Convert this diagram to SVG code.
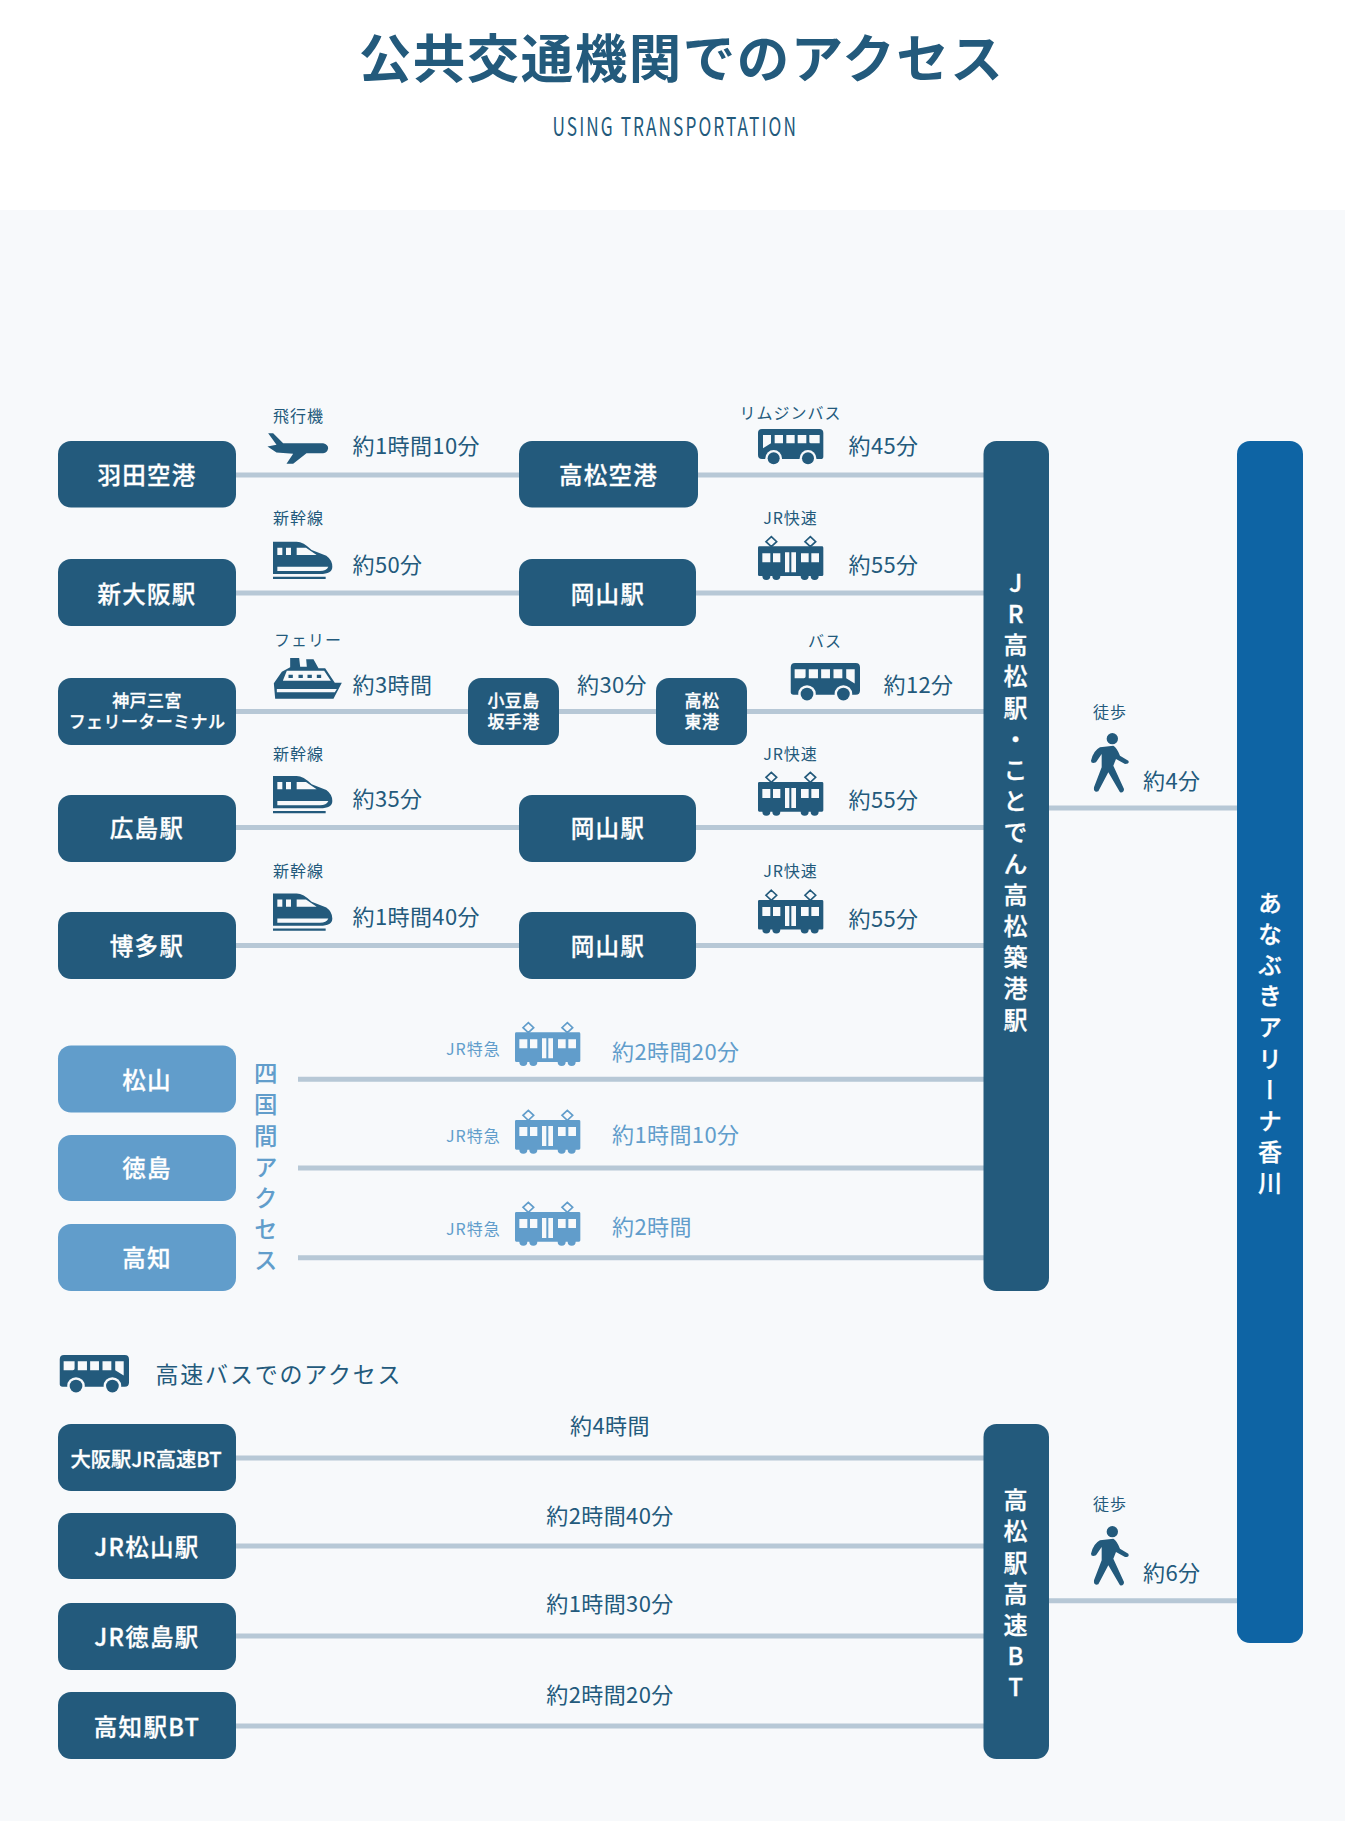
<svg xmlns="http://www.w3.org/2000/svg" width="1345" height="1821" viewBox="0 0 1345 1821">
<style>
text{font-family:"Noto Sans CJK JP","Noto Sans",sans-serif;fill:#235a7c}
.n{fill:#235a7c}.l{fill:#619dcb}.a{fill:#0e64a4}
.t,.m,.v{font-weight:500;fill:#fff;stroke:#fff;stroke-width:.3px}
.t{font-size:23.5px;text-anchor:middle;letter-spacing:1.3px}
.m{font-size:17px;text-anchor:middle;letter-spacing:.4px}
.v{font-size:24px;writing-mode:vertical-rl;text-orientation:upright;letter-spacing:7.2px}
.d{font-size:22px;letter-spacing:.4px}
.s{font-size:16px;letter-spacing:1px}
.c{text-anchor:middle}
.lt{fill:#619dcb}
.ln{stroke:#b7c8d6;stroke-width:5;fill:none}
</style>
<defs>
<path id="plane" transform="scale(.3333)" d="M2,2 H17 L47,32 H167 Q182,36 182,47 Q180,60 167,62 H117 L77,94 H57 L77,64 L27,60 L0,42 L27,37 Z"/>
<path id="shink" fill-rule="evenodd" transform="scale(.3333)" d="M0,0 H71 Q91,0 116,25 L160,42 Q178,55 178,75 Q178,97 141,97 H0 Z M13,18 V40 H28 V18 Z M39,18 V40 H54 V18 Z M71,18 V40 H131 L99,18 Z M13,75 V88 H141 Q160,88 166,75 Z M0,105 H158 V112 H0 Z"/>
<path id="ferry" fill-rule="evenodd" transform="scale(.3333)" d="M1,76 L25,41 L50,28 V0 H77 L80,26 H100 L98,4 H120 L135,31 H155 L184,74 L205,74 L180,122 H5 Z M28,68 H172 L152,38 L132,38 H40 Z M45,50 H58 V60 H45 Z M75,50 H88 V60 H75 Z M102,50 H115 V60 H102 Z M130,50 H143 V60 H130 Z M10,93 V103 H184 L190,93 Z"/>
<g id="bus" transform="scale(.3333)"><path fill-rule="evenodd" d="M12,0 H184 Q196,0 196,12 V83 Q196,90 188,90 H12 Q0,90 0,78 V12 Q0,0 12,0 Z M15,18 V58 L39,43 V18 Z M50,18 V43 H75 V18 Z M85,18 V43 H110 V18 Z M119,18 V43 H145 V18 Z M154,18 V38 Q154,43 159,43 H185 V18 Z"/><circle cx="47" cy="88" r="25" fill="#f7f9fb"/><circle cx="150" cy="88" r="25" fill="#f7f9fb"/><circle cx="47" cy="88" r="18"/><circle cx="150" cy="88" r="18"/></g>
<g id="train" transform="scale(.3333)"><path fill-rule="evenodd" d="M4,31 H192 Q196,31 196,35 V116 Q196,120 192,120 H182 A12,12 0 0 1 158,120 H152 A12,12 0 0 1 128,120 H67 A12,12 0 0 1 43,120 H37 A12,12 0 0 1 13,120 H4 Q0,120 0,116 V35 Q0,31 4,31 Z M13,52 V79 H37 V52 Z M45,52 V79 H67 V52 Z M81,49 V109 H94 V49 Z M100,49 V109 H114 V49 Z M129,52 V79 H152 V52 Z M160,52 V79 H183 V52 Z"/><path d="M40,2 L56,17 L40,32 L24,17 Z M157,2 L173,17 L157,32 L141,17 Z" fill="none" stroke="currentColor" stroke-width="5"/></g>
<g id="walker" transform="scale(.3333)"><circle cx="64" cy="17" r="17"/><path d="M0,83 Q7,53 27,43 L67,38 Q77,43 87,68 L112,83 Q117,93 102,93 L75,78 L67,98 L99,168 Q99,180 87,178 L52,118 L22,175 Q7,180 9,163 L32,103 L32,63 L15,88 Q0,93 0,83 Z"/></g>
</defs>
<rect width="1345" height="1821" fill="#fff"/>
<rect y="210" width="1345" height="1611" fill="#f7f9fb"/>
<g id="header"><text x="681.500" y="78" text-anchor="middle" font-size="52.500" font-weight="700" letter-spacing="1.5">公共交通機関でのアクセス</text>
<text x="552.500" y="136" font-size="25" letter-spacing="3" textLength="245.500" lengthAdjust="spacingAndGlyphs">USING TRANSPORTATION</text></g>
<g id="connectors" class="ln">
<path d="M236,475H984M236,593H984M236,711.5H984M236,827.5H984M236,945.5H984"/>
<path d="M298,1079.3H984M298,1168H984M298,1257.7H984"/>
<path d="M236,1458H984M236,1546H984M236,1636H984M236,1726H984"/>
<path d="M1049,808H1237M1049,1600.7H1237"/>
</g>
<g id="node-haneda"><rect class="n" x="58" y="441" width="178" height="66.500" rx="13"/><text class="t" x="147" y="484">羽田空港</text></g>
<g id="node-takamatsu-airport"><rect class="n" x="519" y="441" width="179" height="66.500" rx="13"/><text class="t" x="608.500" y="484">高松空港</text></g>
<g id="node-shinosaka"><rect class="n" x="58" y="559" width="178" height="67" rx="13"/><text class="t" x="147" y="602.500">新大阪駅</text></g>
<g id="node-okayama1"><rect class="n" x="519" y="559" width="177" height="67" rx="13"/><text class="t" x="608" y="602.500">岡山駅</text></g>
<g id="node-kobe"><rect class="n" x="58" y="678" width="178" height="67" rx="13"/><text class="m"><tspan x="147" y="706.700">神戸三宮</tspan><tspan x="147" y="727.700">フェリーターミナル</tspan></text></g>
<g id="node-shodoshima"><rect class="n" x="468" y="678" width="91" height="67" rx="13"/><text class="m"><tspan x="513.500" y="706.700">小豆島</tspan><tspan x="513.500" y="727.700">坂手港</tspan></text></g>
<g id="node-higashi"><rect class="n" x="656" y="678" width="91" height="67" rx="13"/><text class="m"><tspan x="702" y="706.700">高松</tspan><tspan x="702" y="727.700">東港</tspan></text></g>
<g id="node-hiroshima"><rect class="n" x="58" y="795" width="178" height="67" rx="13"/><text class="t" x="147" y="836.500">広島駅</text></g>
<g id="node-okayama2"><rect class="n" x="519" y="795" width="177" height="67" rx="13"/><text class="t" x="608" y="836.500">岡山駅</text></g>
<g id="node-hakata"><rect class="n" x="58" y="912" width="178" height="67" rx="13"/><text class="t" x="147" y="955">博多駅</text></g>
<g id="node-okayama3"><rect class="n" x="519" y="912" width="177" height="67" rx="13"/><text class="t" x="608" y="955">岡山駅</text></g>
<g id="node-matsuyama"><rect class="l" x="58" y="1045.500" width="178" height="67" rx="13"/><text class="t" x="147" y="1088.500">松山</text></g>
<g id="node-tokushima"><rect class="l" x="58" y="1135" width="178" height="66" rx="13"/><text class="t" x="147" y="1177">徳島</text></g>
<g id="node-kochi"><rect class="l" x="58" y="1224" width="178" height="67" rx="13"/><text class="t" x="147" y="1267">高知</text></g>
<g id="node-osaka-bt"><rect class="n" x="58" y="1424" width="178" height="67" rx="13"/><text class="t" x="146" y="1467" style="font-size:20.300px;letter-spacing:0">大阪駅JR高速BT</text></g>
<g id="node-jr-matsuyama"><rect class="n" x="58" y="1513" width="178" height="66" rx="13"/><text class="t" x="147" y="1555.500">JR松山駅</text></g>
<g id="node-jr-tokushima"><rect class="n" x="58" y="1603" width="178" height="67" rx="13"/><text class="t" x="147" y="1646">JR徳島駅</text></g>
<g id="node-kochi-bt"><rect class="n" x="58" y="1692" width="178" height="67" rx="13"/><text class="t" x="147" y="1735.500">高知駅BT</text></g>
<g id="node-jr-takamatsu"><rect class="n" x="983.500" y="441" width="65.500" height="850" rx="13"/><text class="v" x="1015.500" y="570.700">JR高松駅・ことでん高松築港駅</text></g>
<g id="node-takamatsu-bt"><rect class="n" x="983.500" y="1424" width="65.500" height="335" rx="13"/><text class="v" x="1015.500" y="1488">高松駅高速BT</text></g>
<g id="node-arena"><rect class="a" x="1237" y="441" width="66" height="1202" rx="13"/><text class="v" x="1270" y="890.500">あなぶきアリーナ香川</text></g>
<g id="icons" class="n" color="#235a7c" fill="#235a7c">
<use href="#plane" x="267.500" y="432.500"/>
<use href="#shink" x="273" y="541.700"/>
<use href="#ferry" x="273.500" y="658"/>
<use href="#shink" x="273" y="776"/>
<use href="#shink" x="273" y="893.500"/>
<use href="#bus" x="758" y="429"/>
<use href="#train" x="758" y="536"/>
<use href="#train" x="758" y="771.700"/>
<use href="#train" x="758" y="889.600"/>
<use href="#bus" transform="translate(860,663) scale(-1.06,1.06)"/>
<use href="#bus" transform="translate(129,1355) scale(-1.06,1.06)"/>
<use href="#walker" x="1091" y="733"/>
<use href="#walker" x="1091" y="1526"/>
</g>
<g id="icons-light" class="lt" color="#619dcb" fill="#619dcb">
<use href="#train" x="515" y="1022"/>
<use href="#train" x="515" y="1109.700"/>
<use href="#train" x="515" y="1201.700"/>
</g>
<g id="labels">
<text class="s" x="273" y="422">飛行機</text>
<text class="d" x="352.500" y="454">約1時間10分</text>
<text class="s c" x="790.500" y="418.700">リムジンバス</text>
<text class="d" x="848.500" y="454">約45分</text>
<text class="s" x="273" y="524">新幹線</text>
<text class="d" x="352.500" y="573">約50分</text>
<text class="s c" x="790.500" y="524">JR快速</text>
<text class="d" x="848.500" y="573">約55分</text>
<text class="s" x="274" y="646">フェリー</text>
<text class="d" x="352.500" y="693">約3時間</text>
<text class="d" x="577" y="693">約30分</text>
<text class="s c" x="825" y="646.500">バス</text>
<text class="d" x="883.500" y="693">約12分</text>
<text class="s" x="273" y="760">新幹線</text>
<text class="d" x="352.500" y="807">約35分</text>
<text class="s c" x="790.500" y="760">JR快速</text>
<text class="d" x="848.500" y="807.500">約55分</text>
<text class="s" x="273" y="876.500">新幹線</text>
<text class="d" x="352.500" y="924.500">約1時間40分</text>
<text class="s c" x="790.500" y="877">JR快速</text>
<text class="d" x="848.500" y="926.500">約55分</text>
<text class="s c" x="1110" y="718">徒歩</text>
<text class="d" x="1143" y="789">約4分</text>
<text class="s c" x="1110" y="1510">徒歩</text>
<text class="d" x="1143" y="1581">約6分</text>
<text x="265.700" y="1061.500" style="font-size:23.500px;font-weight:500;fill:#619dcb;writing-mode:vertical-rl;text-orientation:upright;letter-spacing:7.700px">四国間アクセス</text>
<text class="s lt" x="446" y="1054.500">JR特急</text>
<text class="s lt" x="446" y="1142">JR特急</text>
<text class="s lt" x="446" y="1234.500">JR特急</text>
<text class="d lt" x="612" y="1059.500">約2時間20分</text>
<text class="d lt" x="612" y="1143">約1時間10分</text>
<text class="d lt" x="612" y="1235">約2時間</text>
<text x="155.500" y="1383" font-size="23" letter-spacing="1.800">高速バスでのアクセス</text>
<text class="d c" x="610" y="1434">約4時間</text>
<text class="d c" x="610" y="1524">約2時間40分</text>
<text class="d c" x="610" y="1612">約1時間30分</text>
<text class="d c" x="610" y="1702.500">約2時間20分</text>
</g>
</svg>
